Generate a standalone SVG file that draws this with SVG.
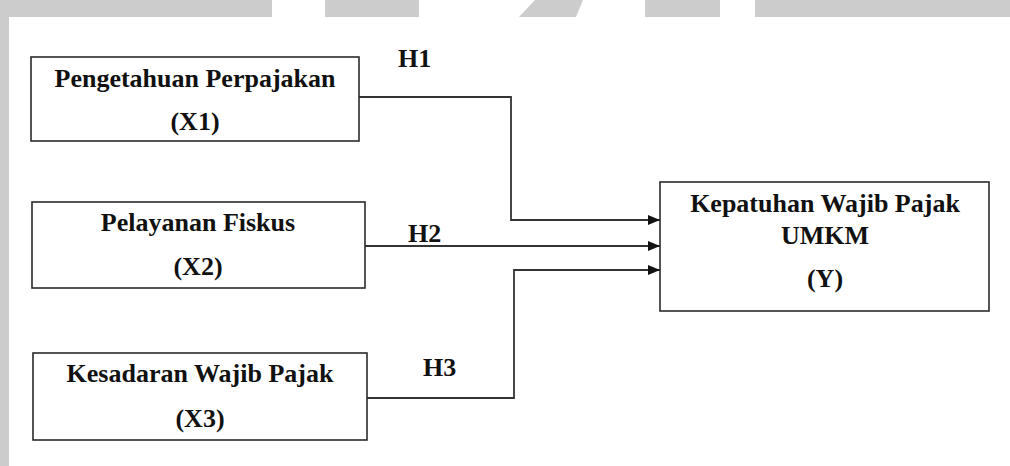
<svg xmlns="http://www.w3.org/2000/svg" width="1010" height="466" viewBox="0 0 1010 466">
  <defs>
    <style>
      .box { fill: #ffffff; stroke: #2b2b2b; stroke-width: 1.6; }
      .lbl { font-family: 'Liberation Serif', 'DejaVu Serif', serif; font-weight: 700; font-size: 26px; fill: #111111; }
      .mid { text-anchor: middle; }
      .conn { fill: none; stroke: #333333; stroke-width: 1.8; }
      .band { fill: #cccccc; }
    </style>
    <marker id="arrow" viewBox="0 0 12 10" refX="12" refY="5" markerWidth="12" markerHeight="10" markerUnits="userSpaceOnUse" orient="auto">
      <polygon points="0,0 12,5 0,10" fill="#111111"/>
    </marker>
  </defs>
  <rect width="1010" height="466" fill="#ffffff"/>
  <g id="background-bands">
    <rect class="band" x="0" y="0" width="9" height="466"/>
    <rect class="band" x="0" y="0" width="272" height="17"/>
    <rect class="band" x="325" y="0" width="94" height="17"/>
    <polygon class="band" points="535,0 583,0 576,17 519,17"/>
    <rect class="band" x="645" y="0" width="75" height="17"/>
    <rect class="band" x="755" y="0" width="255" height="17"/>
  </g>
  <g id="connectors">
    <path class="conn" d="M359,97 H511 V220 H660" marker-end="url(#arrow)"/>
    <path class="conn" d="M365,246 H660" marker-end="url(#arrow)"/>
    <path class="conn" d="M367,398 H514 V270 H660" marker-end="url(#arrow)"/>
    <text class="lbl" x="398" y="67">H1</text>
    <text class="lbl" x="408" y="242">H2</text>
    <text class="lbl" x="423" y="376">H3</text>
  </g>
  <g id="node-x1">
    <rect class="box" x="31" y="57" width="328" height="84"/>
    <text class="lbl mid" x="195" y="87">Pengetahuan Perpajakan</text>
    <text class="lbl mid" x="195" y="130">(X1)</text>
  </g>
  <g id="node-x2">
    <rect class="box" x="32" y="202" width="333" height="86"/>
    <text class="lbl mid" x="198" y="231">Pelayanan Fiskus</text>
    <text class="lbl mid" x="198" y="275">(X2)</text>
  </g>
  <g id="node-x3">
    <rect class="box" x="33" y="353" width="334" height="87"/>
    <text class="lbl mid" x="200" y="382">Kesadaran Wajib Pajak</text>
    <text class="lbl mid" x="200" y="427">(X3)</text>
  </g>
  <g id="node-y">
    <rect class="box" x="660" y="182" width="329" height="129"/>
    <text class="lbl mid" x="825" y="212">Kepatuhan Wajib Pajak</text>
    <text class="lbl mid" x="825" y="244">UMKM</text>
    <text class="lbl mid" x="825" y="287">(Y)</text>
  </g>
</svg>
